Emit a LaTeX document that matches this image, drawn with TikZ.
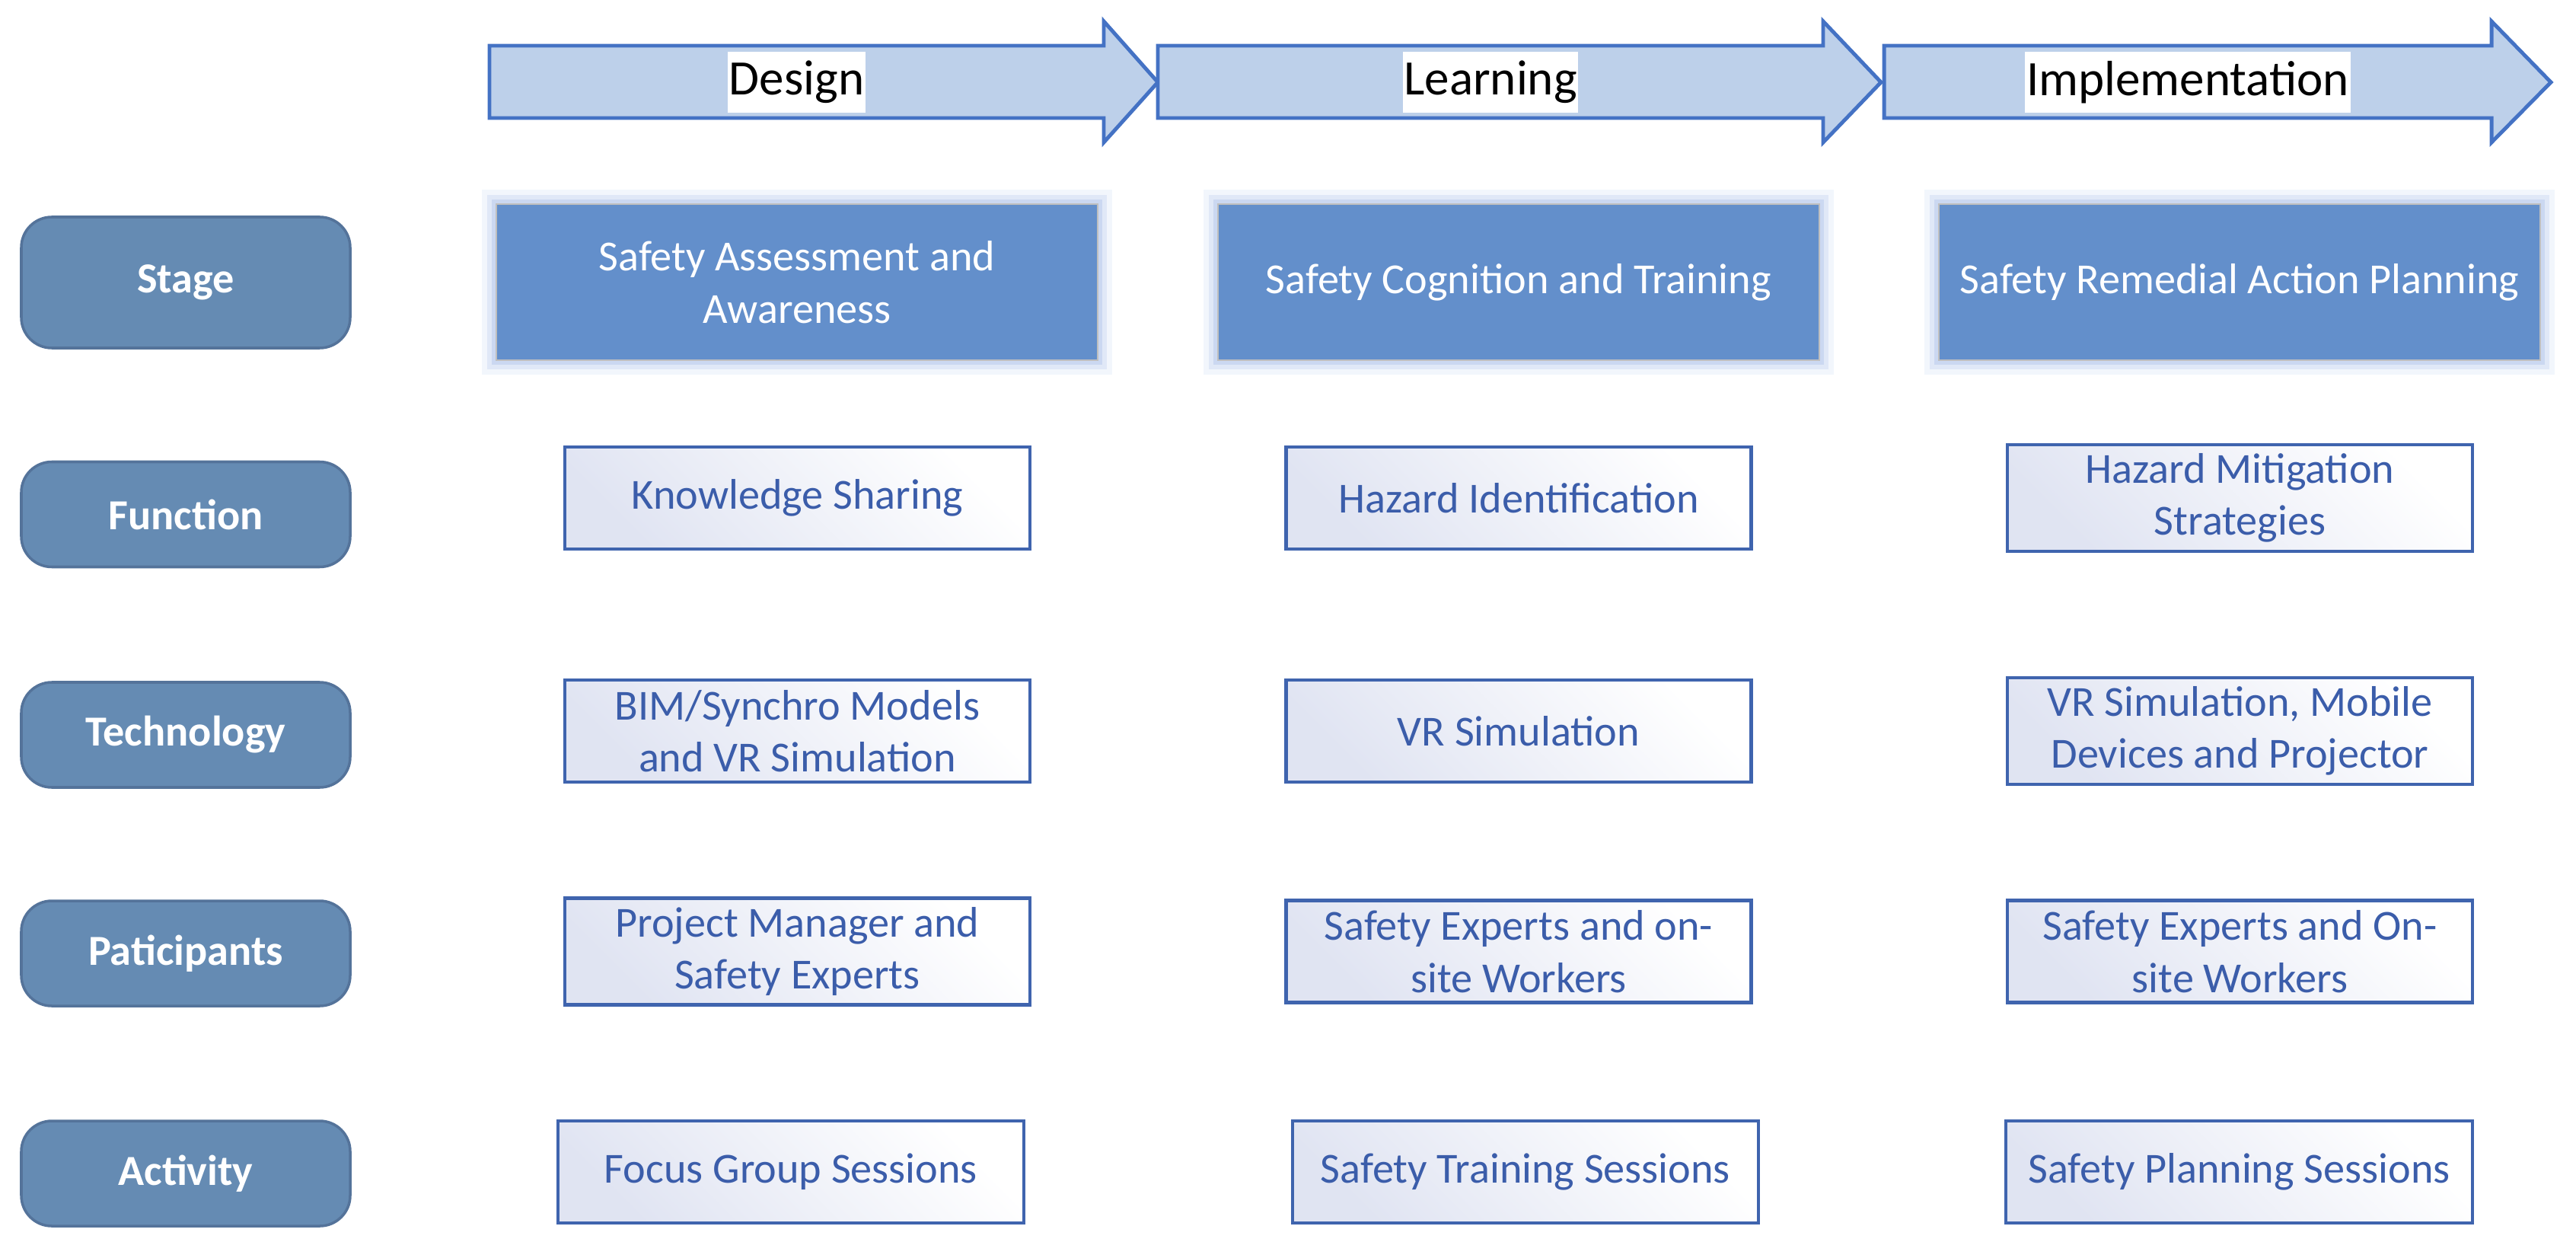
\documentclass[tikz,border=0pt]{standalone}
\usepackage{fontspec}
\setmainfont{Carlito}
\usepackage{tikz}
\usetikzlibrary{positioning,calc}

\definecolor{arrowfill}{RGB}{189,208,234}
\definecolor{arrowline}{RGB}{68,114,196}
\definecolor{stagefill}{RGB}{99,143,203}
\definecolor{glowblue}{RGB}{170,192,232}
\definecolor{labelfill}{RGB}{101,139,179}
\definecolor{labelline}{RGB}{84,115,154}
\definecolor{boxline}{RGB}{63,100,174}
\definecolor{boxtext}{RGB}{59,93,170}
\definecolor{boxtint}{RGB}{224,228,242}

\begin{document}
\begin{tikzpicture}[
  font=\fontsize{16}{19.5}\selectfont,
  phase/.style={draw=arrowline, fill=arrowfill, line width=1.4pt},
  phaselab/.style={fill=white, inner xsep=0.5pt, minimum height=0.8cm, text=black, font=\fontsize{18.5}{22}\selectfont},
  rowlab/.style={draw=labelline, line width=1pt, fill=labelfill, rounded corners=0.4cm, text=white,
    minimum width=4.32cm, minimum height=1.38cm, font=\fontsize{16}{19.5}\selectfont\bfseries},
  stagebox/.style={draw=black!25, line width=0.6pt, fill=stagefill, text=white, align=center,
    minimum width=7.9cm, minimum height=2.05cm,
    preaction={draw=glowblue, line width=11pt, draw opacity=0.15},
    preaction={draw=glowblue, line width=7pt, draw opacity=0.25},
    preaction={draw=glowblue, line width=3.5pt, draw opacity=0.4}},
  itembox/.style={draw=boxline, line width=1.2pt, top color=boxtint, middle color=white, bottom color=white,
    shading angle=135, text=boxtext, align=center, minimum width=6.11cm, minimum height=1.34cm}
]
\useasboundingbox (0,0) rectangle (33.84,-16.52);

% ---------- Phase arrows ----------
\draw[phase] (6.43,-0.60) -- (14.50,-0.60) -- (14.50,-0.28) -- (15.21,-1.08)
  -- (14.50,-1.87) -- (14.50,-1.55) -- (6.43,-1.55) -- cycle;
\draw[phase] (15.21,-0.60) -- (23.95,-0.60) -- (23.95,-0.28) -- (24.71,-1.08)
  -- (23.95,-1.87) -- (23.95,-1.55) -- (15.21,-1.55) -- cycle;
\draw[phase] (24.75,-0.60) -- (32.73,-0.60) -- (32.73,-0.28) -- (33.51,-1.08)
  -- (32.73,-1.87) -- (32.73,-1.55) -- (24.75,-1.55) -- cycle;
\node[phaselab] (design) at (10.465,-1.08) {Design};
\node[phaselab] (learning) at (19.58,-1.08) {Learning};
\node[phaselab] (implementation) at (28.74,-1.08) {Implementation};

% ---------- Row labels ----------
\node[rowlab, minimum height=1.72cm] (stage) at (2.44,-3.71) {Stage};
\node[rowlab] (function) at (2.44,-6.755) {Function};
\node[rowlab] (technology) at (2.44,-9.65) {Technology};
\node[rowlab] (participants) at (2.44,-12.52) {Paticipants};
\node[rowlab] (activity) at (2.44,-15.41) {Activity};

% ---------- Stage ----------
\node[stagebox] (stage1) at (10.47,-3.705) {Safety Assessment and\\ Awareness};
\node[stagebox] (stage2) at (19.95,-3.705) {Safety Cognition and Training};
\node[stagebox] (stage3) at (29.42,-3.705) {Safety Remedial Action Planning};

% ---------- Function ----------
\node[itembox] (func1) at (10.475,-6.54) {Knowledge Sharing};
\node[itembox] (func2) at (19.95,-6.54) {Hazard Identification};
\node[itembox] (func3) at (29.425,-6.54) {Hazard Mitigation\\ Strategies};

% ---------- Technology ----------
\node[itembox] (tech1) at (10.475,-9.60) {BIM/Synchro Models\\ and VR Simulation};
\node[itembox] (tech2) at (19.95,-9.60) {VR Simulation};
\node[itembox] (tech3) at (29.425,-9.60) {VR Simulation, Mobile\\ Devices and Projector};

% ---------- Participants ----------
\node[itembox] (part1) at (10.475,-12.495) {Project Manager and\\ Safety Experts};
\node[itembox] (part2) at (19.95,-12.495) {Safety Experts and on-\\ site Workers};
\node[itembox] (part3) at (29.425,-12.495) {Safety Experts and On-\\ site Workers};

% ---------- Activity ----------
\node[itembox, minimum width=6.12cm] (act1) at (10.39,-15.39) {Focus Group Sessions};
\node[itembox, minimum width=6.12cm] (act2) at (20.04,-15.39) {Safety Training Sessions};
\node[itembox, minimum width=6.13cm] (act3) at (29.415,-15.39) {Safety Planning Sessions};
\end{tikzpicture}
\end{document}
